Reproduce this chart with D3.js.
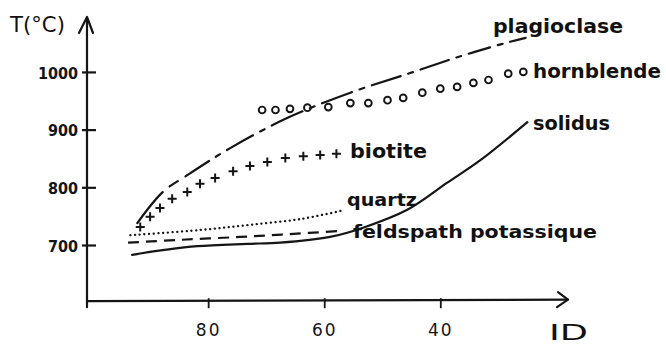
<!DOCTYPE html>
<html>
<head>
<meta charset="utf-8">
<script src="https://cdn.jsdelivr.net/npm/d3@7"></script>
<style>
  html, body { margin: 0; padding: 0; background: #fff; }
  svg { display: block; }
  text { font-family: "DejaVu Sans", sans-serif; fill: #111; }
</style>
</head>
<body>
<svg id="chart" width="666" height="344"></svg>
<script>
// ---- data (ID index vs temperature °C) ----
const xTicks = [80, 60, 40];
const yTicks = [700, 800, 900, 1000];

const solidusID = [93.1, 87.8, 81.9, 73.3, 67.6, 59.0, 53.3, 45.7, 38.8, 33.1, 25.0];
const solidusT  = [683, 691, 698, 702, 704, 714, 730, 761, 808, 847, 913];

const feldspathID = [93.8, 84.8, 74.5, 65.9, 57.8];
const feldspathT  = [704, 709, 714, 719, 724];

const quartzID = [93.4, 81.4, 72.8, 64.1, 57.2];
const quartzT  = [717, 726, 735, 745, 759];

const biotiteID = [91.7, 90.0, 88.3, 86.2, 83.6, 81.4, 78.8, 75.7, 72.8, 69.8, 66.7, 63.6, 60.7, 57.9];
const biotiteT  = [731, 749, 764, 780, 792, 806, 816, 828, 837, 844, 851, 854, 856, 858];

const plagioclaseID = [92.2, 87.8, 83.6, 76.2, 66.4, 55.5, 45.2, 36.9, 28.8, 25.3];
const plagioclaseT  = [738, 792, 821, 868, 920, 964, 998, 1026, 1050, 1059];

const hornblendeID = [70.7, 68.4, 65.9, 62.9, 59.3, 55.5, 52.4, 49.1, 46.4, 43.1, 40.0, 37.1, 34.3, 31.7, 28.3, 25.7];
const hornblendeT  = [934, 934, 936, 938, 939, 946, 946, 951, 955, 964, 971, 974, 981, 986, 997, 1000];

const zip = (a, b) => a.map((v, i) => [v, b[i]]);

// ---- scales ----
const svg = d3.select("#chart");
const x = d3.scaleLinear().domain([100.7, 18]).range([88, 568]);
const y = d3.scaleLinear().domain([600, 1090]).range([302.7, 20]);

const ink = "#151515";
const line = d3.line().x(d => x(d[0])).y(d => y(d[1])).curve(d3.curveCatmullRom.alpha(0.5));

// ---- axes ----
const yAxis = d3.axisLeft(y).tickValues(yTicks).tickSize(0).tickPadding(0).tickFormat(d3.format("d"));
const gy = svg.append("g").attr("transform", `translate(${x(100.7) - 1},0)`).call(yAxis);
gy.select(".domain").remove();
gy.selectAll(".tick line").remove();
gy.selectAll(".tick").append("line")
  .attr("x1", -5).attr("x2", 9).attr("y1", 0).attr("y2", 0)
  .attr("stroke", ink).attr("stroke-width", 2.2);
gy.selectAll(".tick text")
  .attr("x", -9).attr("dy", "0.38em")
  .style("font-family", "'DejaVu Sans Condensed', 'DejaVu Sans', sans-serif")
  .style("font-weight", "bold").style("font-size", "16px")
  .style("fill", ink);

const xAxis = d3.axisBottom(x).tickValues(xTicks).tickSize(0).tickPadding(0).tickFormat(d3.format("d"));
const gx = svg.append("g").attr("transform", `translate(0,${y(600) - 1.5})`).call(xAxis);
gx.select(".domain").remove();
gx.selectAll(".tick line").remove();
gx.selectAll(".tick").append("line")
  .attr("x1", 0).attr("x2", 0).attr("y1", -3).attr("y2", 7)
  .attr("stroke", ink).attr("stroke-width", 1.8);
gx.selectAll(".tick text")
  .attr("y", 35).attr("dy", 0)
  .style("font-family", "'DejaVu Sans', sans-serif")
  .style("font-size", "17px").style("letter-spacing", "2px")
  .style("fill", ink);

// axis lines with arrows
const axisG = svg.append("g").attr("stroke", ink).attr("stroke-width", 2.2).attr("fill", "none")
  .attr("stroke-linecap", "round").attr("stroke-linejoin", "round");
const ax0 = x(100.7) - 1, ay0 = y(600) - 1.5;
axisG.append("path").attr("d", `M${ax0},${ay0 + 6}L${ax0},18`);
axisG.append("path").attr("d", `M${ax0 - 8},33L${ax0},17L${ax0 + 6},33`);
axisG.append("path").attr("d", `M${ax0},${ay0}L${x(18)},${ay0 - 1.5}`);
axisG.append("path").attr("d", `M${x(18) - 10},${ay0 - 9}L${x(18)},${ay0 - 1.5}L${x(18) - 11},${ay0 + 6}`);

// axis titles
svg.append("text").attr("x", 10).attr("y", 32).attr("textLength", 55).attr("lengthAdjust", "spacingAndGlyphs")
  .style("font-size", "21px").text("T(°C)");
svg.append("text").attr("x", 549).attr("y", 340).attr("textLength", 39).attr("lengthAdjust", "spacingAndGlyphs")
  .style("font-size", "22px").text("ID");

// ---- curves ----
const curves = svg.append("g").attr("fill", "none").attr("stroke", ink).attr("stroke-linecap", "round");

curves.append("path").datum(zip(solidusID, solidusT)).attr("d", line)
  .attr("stroke-width", 2.2);

curves.append("path").datum(zip(feldspathID, feldspathT)).attr("d", line)
  .attr("stroke-width", 2.2).attr("stroke-linecap", "butt").attr("stroke-dasharray", "11,7");

curves.append("path").datum(zip(quartzID, quartzT)).attr("d", line)
  .attr("stroke-width", 2.3).attr("stroke-dasharray", "0.1,4.6");

curves.append("path").datum(zip(plagioclaseID, plagioclaseT)).attr("d", line)
  .attr("stroke-width", 2.2).attr("stroke-dasharray", "40,9,10,9,28,8,5,8,30,8,5,8,34,8,5,8,32,8,5,8,30,8,5,8,30,8,5,8,22,8,5,8,20,8,5,8");

// biotite plus markers
svg.append("g").selectAll("path").data(zip(biotiteID, biotiteT)).join("path")
  .attr("transform", d => `translate(${x(d[0])},${y(d[1])})`)
  .attr("d", "M-4.5,0H4.5M0,-4.5V4.5")
  .attr("stroke", ink).attr("stroke-width", 2).attr("fill", "none");

// hornblende circle markers
svg.append("g").selectAll("circle").data(zip(hornblendeID, hornblendeT)).join("circle")
  .attr("cx", d => x(d[0])).attr("cy", d => y(d[1])).attr("r", 3.4)
  .attr("stroke", ink).attr("stroke-width", 1.9).attr("fill", "none");

// ---- curve labels ----
const labels = [
  { t: "plagioclase", x: 493, y: 33, w: 130, s: 19 },
  { t: "hornblende", x: 533, y: 78, w: 128, s: 19 },
  { t: "solidus", x: 533, y: 130, w: 77, s: 19 },
  { t: "biotite", x: 350, y: 158, w: 77, s: 19 },
  { t: "quartz", x: 347, y: 206, w: 70, s: 18 },
  { t: "feldspath potassique", x: 353, y: 238, w: 244, s: 18 }
];
svg.append("g").selectAll("text").data(labels).join("text")
  .attr("x", d => d.x).attr("y", d => d.y)
  .attr("textLength", d => d.w).attr("lengthAdjust", "spacingAndGlyphs")
  .style("font-size", d => d.s + "px").style("font-weight", "bold")
  .text(d => d.t);
</script>
</body>
</html>
